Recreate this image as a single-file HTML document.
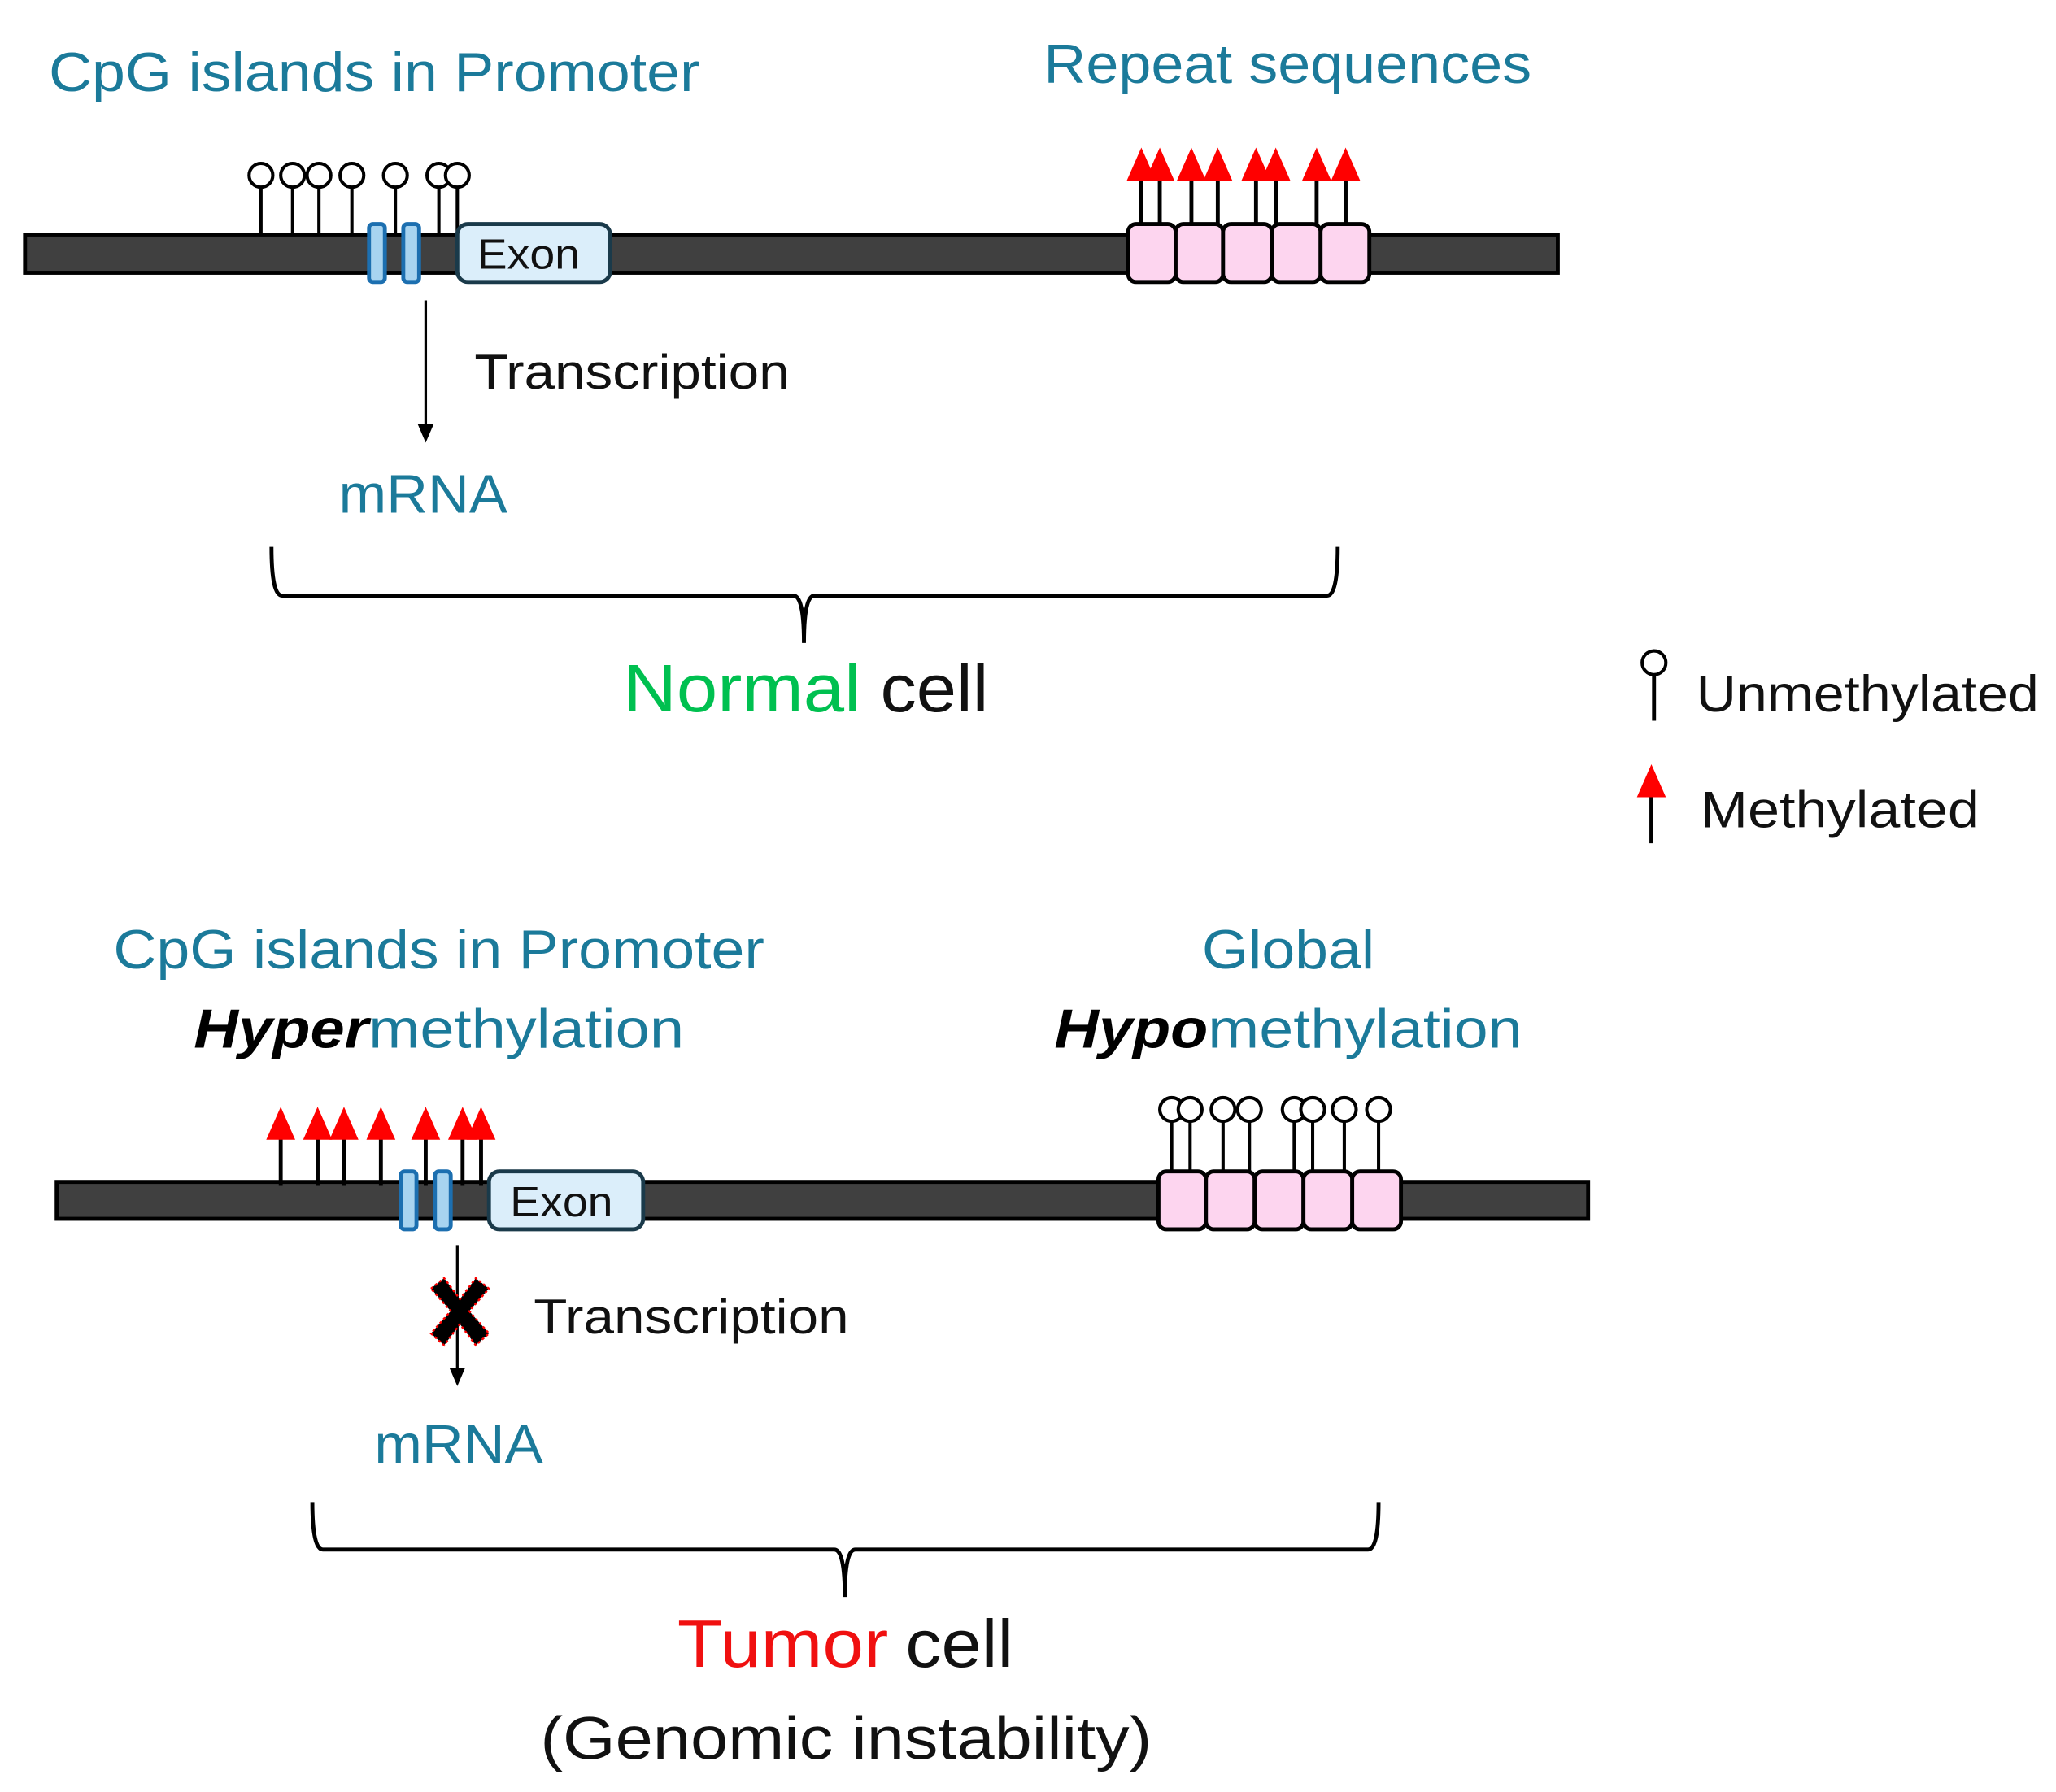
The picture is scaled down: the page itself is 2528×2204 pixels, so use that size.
<!DOCTYPE html>
<html><head><meta charset="utf-8"><style>
html,body{margin:0;padding:0;background:#fff;}
svg{display:block;}
text{font-family:"Liberation Sans",sans-serif;}
</style></head><body>
<svg width="2528" height="2204" viewBox="0 0 1560 1360" xmlns="http://www.w3.org/2000/svg">

<!-- TOP -->
<text x="37" y="69" font-size="42" fill="#1b7a9a" textLength="494" lengthAdjust="spacingAndGlyphs">CpG islands in Promoter</text>
<text x="792" y="63" font-size="42" fill="#1b7a9a" textLength="370" lengthAdjust="spacingAndGlyphs">Repeat sequences</text>

<rect x="19" y="178" width="1163" height="29" fill="#404040" stroke="#000" stroke-width="3"/>
<g stroke="#000" stroke-width="2.5" fill="#fff">
<line x1="198" y1="142" x2="198" y2="178"/><circle cx="198" cy="133" r="9"/>
<line x1="222" y1="142" x2="222" y2="178"/><circle cx="222" cy="133" r="9"/>
<line x1="242" y1="142" x2="242" y2="178"/><circle cx="242" cy="133" r="9"/>
<line x1="267" y1="142" x2="267" y2="178"/><circle cx="267" cy="133" r="9"/>
<line x1="300" y1="142" x2="300" y2="178"/><circle cx="300" cy="133" r="9"/>
<line x1="333" y1="142" x2="333" y2="178"/><circle cx="333" cy="133" r="9"/>
<line x1="347" y1="142" x2="347" y2="178"/><circle cx="347" cy="133" r="9"/>
</g>
<rect x="280" y="170" width="12" height="44" rx="3" fill="#a8d4f0" stroke="#1c6fb0" stroke-width="3"/>
<rect x="306" y="170" width="12" height="44" rx="3" fill="#a8d4f0" stroke="#1c6fb0" stroke-width="3"/>
<rect x="347" y="170" width="116" height="44" rx="8" fill="#dbeefa" stroke="#1a3a4a" stroke-width="3"/>
<text x="362" y="204" font-size="32" fill="#111" textLength="78" lengthAdjust="spacingAndGlyphs">Exon</text>

<g stroke="#000" stroke-width="3">
<line x1="866" y1="137" x2="866" y2="172"/><line x1="880" y1="137" x2="880" y2="172"/>
<line x1="904" y1="137" x2="904" y2="172"/><line x1="924" y1="137" x2="924" y2="172"/>
<line x1="953" y1="137" x2="953" y2="172"/><line x1="968" y1="137" x2="968" y2="172"/>
<line x1="999" y1="137" x2="999" y2="172"/><line x1="1021" y1="137" x2="1021" y2="172"/>
</g>
<g fill="#f00">
<path d="M855,137 L866,112 L877,137Z"/><path d="M869,137 L880,112 L891,137Z"/>
<path d="M893,137 L904,112 L915,137Z"/><path d="M913,137 L924,112 L935,137Z"/>
<path d="M942,137 L953,112 L964,137Z"/><path d="M957,137 L968,112 L979,137Z"/>
<path d="M988,137 L999,112 L1010,137Z"/><path d="M1010,137 L1021,112 L1032,137Z"/>
</g>
<g fill="#fdd5ef" stroke="#000" stroke-width="3">
<rect x="856" y="170" width="36" height="44" rx="6"/>
<rect x="892" y="170" width="36" height="44" rx="6"/>
<rect x="928" y="170" width="37" height="44" rx="6"/>
<rect x="965" y="170" width="37" height="44" rx="6"/>
<rect x="1002" y="170" width="37" height="44" rx="6"/>
</g>

<line x1="323" y1="228" x2="323" y2="324" stroke="#000" stroke-width="2"/>
<path d="M317,322 L329,322 L323,336 Z" fill="#000"/>
<text x="360" y="295" font-size="37" fill="#111" textLength="239" lengthAdjust="spacingAndGlyphs">Transcription</text>
<text x="257" y="389" font-size="41" fill="#1b7a9a" textLength="128" lengthAdjust="spacingAndGlyphs">mRNA</text>

<path d="M206,415 Q206,452 214,452 L602,452 Q610,452 610,488 Q610,452 618,452 L1007,452 Q1015,452 1015,415" fill="none" stroke="#000" stroke-width="3"/>
<text x="473" y="540" font-size="51" fill="#00c050" textLength="180" lengthAdjust="spacingAndGlyphs">Normal</text>
<text x="668" y="540" font-size="51" fill="#111" textLength="82" lengthAdjust="spacingAndGlyphs">cell</text>

<!-- Legend -->
<line x1="1255" y1="512" x2="1255" y2="547" stroke="#000" stroke-width="3"/>
<circle cx="1255" cy="503" r="9" fill="#fff" stroke="#000" stroke-width="2.5"/>
<text x="1287" y="540" font-size="39" fill="#111" textLength="260" lengthAdjust="spacingAndGlyphs">Unmethylated</text>
<line x1="1253" y1="603" x2="1253" y2="640" stroke="#000" stroke-width="3"/>
<path d="M1242,605 L1253,580 L1264,605Z" fill="#f00"/>
<text x="1290" y="628" font-size="39" fill="#111" textLength="212" lengthAdjust="spacingAndGlyphs">Methylated</text>

<!-- BOTTOM -->
<text x="86" y="735" font-size="42" fill="#1b7a9a" textLength="494" lengthAdjust="spacingAndGlyphs">CpG islands in Promoter</text>
<text x="147" y="795" font-size="42" textLength="372" lengthAdjust="spacingAndGlyphs"><tspan fill="#000" font-weight="bold" font-style="italic">Hyper</tspan><tspan fill="#1b7a9a">methylation</tspan></text>
<text x="912" y="735" font-size="42" fill="#1b7a9a" textLength="131" lengthAdjust="spacingAndGlyphs">Global</text>
<text x="800" y="795" font-size="42" textLength="355" lengthAdjust="spacingAndGlyphs"><tspan fill="#000" font-weight="bold" font-style="italic">Hypo</tspan><tspan fill="#1b7a9a">methylation</tspan></text>

<rect x="43" y="897" width="1162" height="28" fill="#404040" stroke="#000" stroke-width="3"/>
<g stroke="#000" stroke-width="3">
<line x1="213" y1="864" x2="213" y2="900"/><line x1="241" y1="864" x2="241" y2="900"/>
<line x1="261" y1="864" x2="261" y2="900"/><line x1="289" y1="864" x2="289" y2="900"/>
<line x1="323" y1="864" x2="323" y2="900"/><line x1="351" y1="864" x2="351" y2="900"/>
<line x1="365" y1="864" x2="365" y2="900"/>
</g>
<g fill="#f00">
<path d="M202,865 L213,840 L224,865Z"/><path d="M230,865 L241,840 L252,865Z"/>
<path d="M250,865 L261,840 L272,865Z"/><path d="M278,865 L289,840 L300,865Z"/>
<path d="M312,865 L323,840 L334,865Z"/><path d="M340,865 L351,840 L362,865Z"/>
<path d="M354,865 L365,840 L376,865Z"/>
</g>
<rect x="304" y="889" width="12" height="44" rx="3" fill="#a8d4f0" stroke="#1c6fb0" stroke-width="3"/>
<rect x="330" y="889" width="12" height="44" rx="3" fill="#a8d4f0" stroke="#1c6fb0" stroke-width="3"/>
<rect x="371" y="889" width="117" height="44" rx="8" fill="#dbeefa" stroke="#1a3a4a" stroke-width="3"/>
<text x="387" y="923" font-size="32" fill="#111" textLength="78" lengthAdjust="spacingAndGlyphs">Exon</text>

<g stroke="#000" stroke-width="2.5" fill="#fff">
<line x1="889" y1="851" x2="889" y2="892"/><line x1="903" y1="851" x2="903" y2="892"/>
<line x1="928" y1="851" x2="928" y2="892"/><line x1="948" y1="851" x2="948" y2="892"/>
<line x1="982" y1="851" x2="982" y2="892"/><line x1="996" y1="851" x2="996" y2="892"/>
<line x1="1020" y1="851" x2="1020" y2="892"/><line x1="1046" y1="851" x2="1046" y2="892"/>
<circle cx="889" cy="842" r="9"/><circle cx="903" cy="842" r="9"/>
<circle cx="928" cy="842" r="9"/><circle cx="948" cy="842" r="9"/>
<circle cx="982" cy="842" r="9"/><circle cx="996" cy="842" r="9"/>
<circle cx="1020" cy="842" r="9"/><circle cx="1046" cy="842" r="9"/>
</g>
<g fill="#fdd5ef" stroke="#000" stroke-width="3">
<rect x="879" y="889" width="36" height="44" rx="6"/>
<rect x="915" y="889" width="37" height="44" rx="6"/>
<rect x="952" y="889" width="37" height="44" rx="6"/>
<rect x="989" y="889" width="37" height="44" rx="6"/>
<rect x="1026" y="889" width="37" height="44" rx="6"/>
</g>

<line x1="347" y1="945" x2="347" y2="1040" stroke="#000" stroke-width="2"/>
<path d="M341,1038 L353,1038 L347,1052 Z" fill="#000"/>
<path d="M327,978 L337,970 L349,986 L361,970 L371,978 L356,995 L371,1012 L361,1021 L349,1005 L337,1021 L327,1012 L342,995 Z" fill="#000" stroke="#f00" stroke-width="1.5" stroke-dasharray="2,2"/>
<text x="405" y="1012" font-size="37" fill="#111" textLength="239" lengthAdjust="spacingAndGlyphs">Transcription</text>
<text x="284" y="1110" font-size="41" fill="#1b7a9a" textLength="128" lengthAdjust="spacingAndGlyphs">mRNA</text>

<path d="M237,1140 Q237,1176 245,1176 L633,1176 Q641,1176 641,1212 Q641,1176 649,1176 L1038,1176 Q1046,1176 1046,1140" fill="none" stroke="#000" stroke-width="3"/>
<text x="514" y="1265" font-size="51" fill="#f01010" textLength="160" lengthAdjust="spacingAndGlyphs">Tumor</text>
<text x="687" y="1265" font-size="51" fill="#111" textLength="82" lengthAdjust="spacingAndGlyphs">cell</text>
<text x="410" y="1335" font-size="46" fill="#111" textLength="464" lengthAdjust="spacingAndGlyphs">(Genomic instability)</text>
</svg>
</body></html>
